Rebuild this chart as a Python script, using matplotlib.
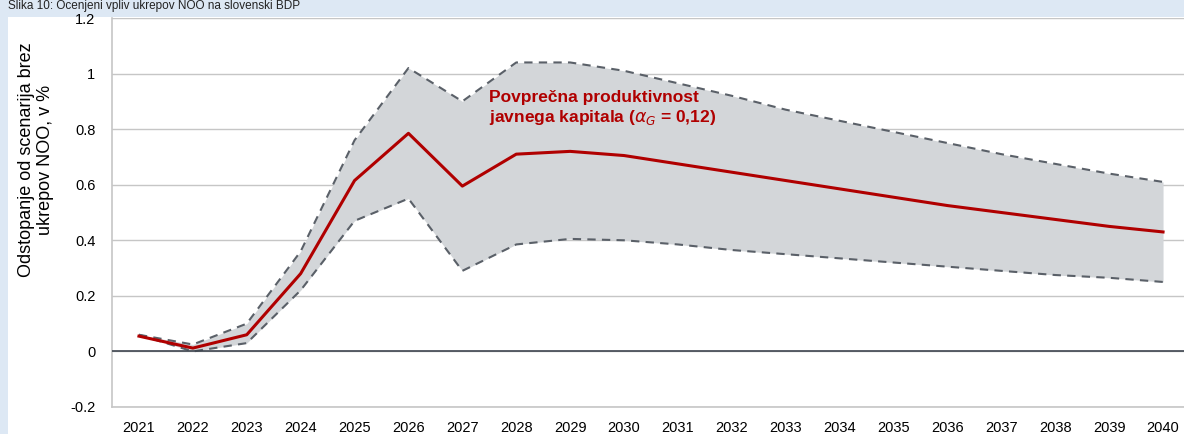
import numpy as np
import matplotlib.pyplot as plt
from matplotlib.patches import Rectangle

plt.rcParams['font.family'] = ['Liberation Sans', 'DejaVu Sans']
plt.rcParams['mathtext.fontset'] = 'dejavusans'

# leta in vrednosti (odstopanje v %)
leta = list(range(2021, 2041))
povprecje = [0.055, 0.012, 0.06, 0.28, 0.615, 0.785, 0.595, 0.71, 0.72, 0.705,
             0.675, 0.645, 0.615, 0.585, 0.555, 0.525, 0.50, 0.475, 0.45, 0.43]
zgornja = [0.06, 0.025, 0.10, 0.36, 0.76, 1.02, 0.90, 1.04, 1.04, 1.01,
           0.965, 0.92, 0.87, 0.83, 0.79, 0.75, 0.71, 0.675, 0.64, 0.61]
spodnja = [0.06, 0.0, 0.03, 0.22, 0.47, 0.55, 0.29, 0.385, 0.405, 0.40,
           0.385, 0.365, 0.35, 0.335, 0.32, 0.305, 0.29, 0.275, 0.265, 0.25]
y_ticks = [-0.2, 0, 0.2, 0.4, 0.6, 0.8, 1, 1.2]

W, H = 1184, 434
fig = plt.figure(figsize=(W / 100, H / 100), dpi=100, facecolor='#dde8f4')
# bel okvir slike
fig.patches.append(Rectangle((8 / W, 0), 1, 1 - 17 / H, transform=fig.transFigure,
                             facecolor='white', edgecolor='none', zorder=-5))
fig.text(8 / W, 1 - 0.5 / H, 'Slika 10: Ocenjeni vpliv ukrepov NOO na slovenski BDP',
         fontsize=8.5, va='top', ha='left', color='#222222')

x0, x1 = 112, 1190
y0, y1 = 18, 407
ax = fig.add_axes([x0 / W, 1 - y1 / H, (x1 - x0) / W, (y1 - y0) / H], zorder=2)
ax.set_facecolor('none')

x = np.array(leta)
ax.fill_between(x, spodnja, zgornja, color='#d3d6d9', lw=0, zorder=2)
ax.plot(x, zgornja, color='#5a6068', lw=1.5, ls=(0, (4, 3)), zorder=3)
ax.plot(x, spodnja, color='#5a6068', lw=1.5, ls=(0, (4, 3)), zorder=3)
ax.plot(x, povprecje, color='#b00000', lw=2.2, zorder=4)
ax.axhline(0, color='#3f4650', lw=1.2, zorder=3)

ax.set_xlim(2020.5, 2040.5)
ax.set_ylim(-0.2, 1.2)
ax.set_xticks(leta)
ax.set_xticklabels([str(l) for l in leta])
ax.set_yticks(y_ticks)
ax.set_yticklabels(['-0.2', '0', '0.2', '0.4', '0.6', '0.8', '1', '1.2'])
ax.tick_params(length=0, labelsize=10.5, pad=10)
ax.tick_params(axis='y', pad=12)
ax.grid(axis='y', color='#c6c6c6', lw=1.0, zorder=1)
for s in ['top', 'right']:
    ax.spines[s].set_visible(False)
ax.spines['left'].set_color('#c6c6c6')
ax.spines['bottom'].set_color('#c6c6c6')
ax.spines['left'].set_linewidth(1.2)
ax.spines['bottom'].set_linewidth(1.2)

ax.text(2027.5, 0.875, 'Povprečna produktivnost\njavnega kapitala ($\\alpha_G$ = 0,12)',
        color='#b00000', fontsize=12.5, fontweight='bold', ha='left', va='center',
        linespacing=1.2, zorder=5)

fig.text(36 / W, 1 - 160 / H, 'Odstopanje od scenarija brez\nukrepov NOO, v %',
         rotation=90, ha='center', va='center', fontsize=13, linespacing=1.1)

fig.savefig('out.png', dpi=100, facecolor=fig.get_facecolor())
